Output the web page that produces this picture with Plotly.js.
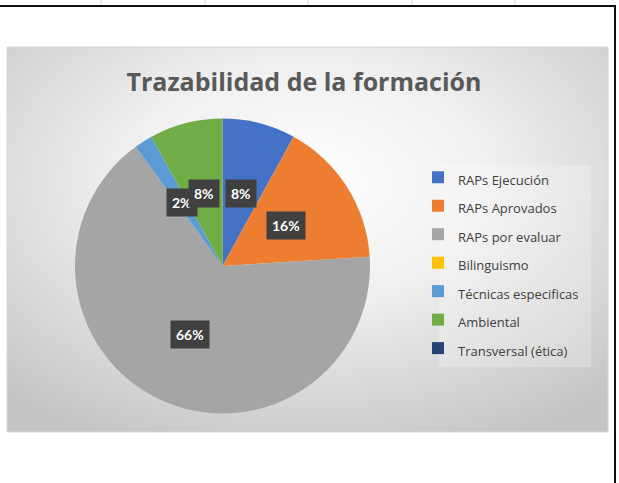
<!DOCTYPE html>
<html>
<head>
<meta charset="utf-8">
<script src="https://cdn.plot.ly/plotly-3.0.1.min.js"></script>
<style>
  body { margin: 0; background: #fff; }
  #chart { width: 619px; height: 483px; }
</style>
</head>
<body>
<div id="chart"></div>
<script>
// categories and values (percent of total)
const categories = ['RAPs Ejecución', 'RAPs Aprovados', 'RAPs por evaluar', 'Bilinguismo',
                    'Técnicas especificas', 'Ambiental', 'Transversal (ética)'];
const values = [8, 16, 66, 0, 2, 8, 0];
const colors = ['#4472C4', '#ED7D31', '#A5A5A5', '#FFC000', '#5B9BD5', '#70AD47', '#264478'];

const W = 619, H = 483;
// pie placement in pixels
const cx = 222.5, cy = 266, R = 147.5;

const total = values.reduce((a, b) => a + b, 0);

// data labels sit half way out along each slice's middle angle
const labels = [];
let cum = 0;
values.forEach((v, i) => {
    const mid = (cum + v / 2) / total * 2 * Math.PI;
    cum += v;
    if (v === 0) return;
    const r = 0.51 * R;
    labels.push({
        x: (cx + r * Math.sin(mid)) / W,
        y: 1 - (cy - r * Math.cos(mid)) / H,
        xref: 'paper', yref: 'paper',
        xanchor: 'center', yanchor: 'middle',
        text: Math.round(v / total * 100) + '%',
        showarrow: false,
        bgcolor: '#404040',
        borderpad: 5,
        font: { family: 'Lato, sans-serif', size: 14, color: '#ffffff', weight: 'bold' }
    });
});

// background of the chart box: radial grey gradient
const bg = 'data:image/svg+xml;utf8,' + encodeURIComponent(
    '<svg xmlns="http://www.w3.org/2000/svg" width="600" height="400" preserveAspectRatio="none">' +
    '<defs><radialGradient id="g" cx="50%" cy="35%" r="75%">' +
    '<stop offset="0" stop-color="#ffffff"/><stop offset="0.4" stop-color="#f0f0f0"/>' +
    '<stop offset="1" stop-color="#c4c4c4"/></radialGradient></defs>' +
    '<rect width="600" height="400" fill="url(#g)"/></svg>');

const box = { x0: 7, x1: 608, y0: 47, y1: 432 };
const px = x => x / W;
const py = y => 1 - y / H;

const shapes = [
    // spreadsheet grid lines above the chart
    ...[101, 205, 308, 412, 515].map(x => ({
        type: 'line', xref: 'paper', yref: 'paper', x0: px(x), x1: px(x), y0: py(0), y1: py(5),
        line: { color: '#d4d4d4', width: 1 }
    })),
    { type: 'line', xref: 'paper', yref: 'paper', x0: 0, x1: px(616), y0: py(6), y1: py(6),
      line: { color: '#111', width: 2 } },
    { type: 'line', xref: 'paper', yref: 'paper', x0: px(615), x1: px(615), y0: py(6), y1: 0,
      line: { color: '#111', width: 2 } },
    { type: 'rect', xref: 'paper', yref: 'paper', layer: 'below',
      x0: px(box.x0), x1: px(box.x1), y0: py(box.y1), y1: py(box.y0),
      line: { color: '#d6d6d6', width: 1 } },
    // legend panel
    { type: 'rect', xref: 'paper', yref: 'paper', layer: 'below',
      x0: px(439), x1: px(591), y0: py(367), y1: py(165),
      fillcolor: 'rgba(255,255,255,0.22)', line: { width: 0 } }
];

Plotly.newPlot('chart', [{
    type: 'pie',
    labels: categories.map(c => '<span style="font-size:13px">' + c + '</span>'),
    values: values,
    marker: { colors: colors, line: { width: 0 } },
    sort: false,
    direction: 'clockwise',
    rotation: 0,
    textinfo: 'none',
    hoverinfo: 'label+percent',
    domain: { x: [px(cx - R), px(cx + R)], y: [py(cy + R), py(cy - R)] }
}], {
    width: W,
    height: H,
    margin: { l: 0, r: 0, t: 0, b: 0 },
    paper_bgcolor: '#ffffff',
    font: { family: 'Open Sans, sans-serif', color: '#404040' },
    title: {
        text: '<b>Trazabilidad de la formación</b>',
        font: { family: 'Open Sans, sans-serif', size: 25, color: '#595959' },
        x: px(304), xanchor: 'center',
        y: py(82), yanchor: 'middle'
    },
    showlegend: true,
    legend: {
        x: px(418), xanchor: 'left',
        y: py(158), yanchor: 'top',
        bgcolor: 'rgba(0,0,0,0)',
        font: { family: 'Open Sans, sans-serif', size: 19.6, color: '#404040' },
        traceorder: 'normal'
    },
    images: [{
        source: bg, xref: 'paper', yref: 'paper',
        x: px(box.x0), y: py(box.y0), sizex: (box.x1 - box.x0) / W, sizey: (box.y1 - box.y0) / H,
        xanchor: 'left', yanchor: 'top', sizing: 'stretch', layer: 'below'
    }],
    shapes: shapes,
    annotations: labels
}, { displayModeBar: false, staticPlot: true });
</script>
</body>
</html>
